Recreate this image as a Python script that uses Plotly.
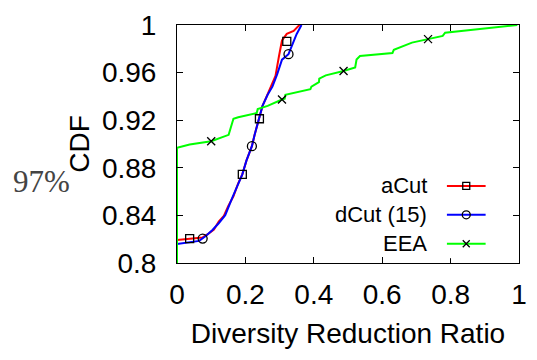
import plotly.graph_objects as go

# ---- data ----
acut_x = [0, 0.037, 0.06, 0.075, 0.089, 0.108, 0.122, 0.137, 0.15, 0.165, 0.179, 0.191,
          0.203, 0.219, 0.227, 0.241, 0.25, 0.26, 0.275, 0.288, 0.298, 0.307, 0.321,
          0.341, 0.355, 0.36]
acut_y = [0.8194, 0.8205, 0.8210, 0.8215, 0.824, 0.8281, 0.8348, 0.8395, 0.848, 0.856,
          0.867, 0.8745, 0.886, 0.8982, 0.9077, 0.9212, 0.932, 0.9385, 0.948, 0.9573,
          0.9735, 0.987, 0.9925, 0.9951, 0.9992, 1.0]

dcut_x = [0, 0.032, 0.065, 0.084, 0.103, 0.122, 0.141, 0.16, 0.179, 0.191, 0.203, 0.219,
          0.227, 0.241, 0.25, 0.265, 0.279, 0.293, 0.307, 0.326, 0.336, 0.35, 0.364]
dcut_y = [0.816, 0.8172, 0.8186, 0.8227, 0.8275, 0.8334, 0.8402, 0.8537, 0.8672, 0.8745,
          0.886, 0.8982, 0.9077, 0.9212, 0.932, 0.9414, 0.9482, 0.9587, 0.9709, 0.9755,
          0.983, 0.9925, 1.0]

eea_x = [0, 0, 0.037, 0.1, 0.151, 0.158, 0.165, 0.179, 0.217, 0.233, 0.236, 0.265, 0.307,
         0.315, 0.317, 0.378, 0.39, 0.393, 0.412, 0.415, 0.416, 0.435, 0.487, 0.521,
         0.525, 0.535, 0.63, 0.634, 0.687, 0.734, 0.777, 0.784, 0.995]
eea_y = [0.8, 0.8969, 0.8996, 0.9023, 0.9077, 0.915, 0.9212, 0.9225, 0.9252, 0.926,
         0.9293, 0.932, 0.9374, 0.938, 0.9414, 0.9455, 0.946, 0.9482, 0.9509, 0.952,
         0.955, 0.9577, 0.9614, 0.9644, 0.971, 0.9739, 0.9765, 0.9792, 0.9852, 0.9881,
         0.9908, 0.9935, 1.0]

acut_mx = [0.037, 0.191, 0.241, 0.321]
acut_my = [0.8205, 0.8745, 0.9212, 0.9862]
dcut_mx = [0.075, 0.219, 0.326]
dcut_my = [0.8205, 0.8982, 0.9755]
eea_mx = [0.1, 0.307, 0.487, 0.734]
eea_my = [0.9023, 0.9374, 0.9614, 0.9881]

series_names = ["aCut", "dCut (15)", "EEA"]
series_colors = ["#ff0000", "#0000ff", "#00ff00"]
series_symbols = ["square-open", "circle-open", "x-thin-open"]

x_ticks = [0, 0.2, 0.4, 0.6, 0.8, 1]
x_ticktext = ["0", "0.2", "0.4", "0.6", "0.8", "1"]
y_ticks = [0.8, 0.84, 0.88, 0.92, 0.96, 1]
y_ticktext = ["0.8", "0.84", "0.88", "0.92", "0.96", "1"]

FONT = "Liberation Sans, Arial, sans-serif"

fig = go.Figure()

lines = [(acut_x, acut_y), (dcut_x, dcut_y), (eea_x, eea_y)]
marks = [(acut_mx, acut_my), (dcut_mx, dcut_my), (eea_mx, eea_my)]
msize = [8, 9, 8]
lsize = [7, 8, 7]

for (lx, ly), c in zip(lines, series_colors):
    fig.add_trace(go.Scatter(x=lx, y=ly, mode="lines", line=dict(color=c, width=2),
                             showlegend=False, hoverinfo="skip"))
for (mx, my), s, ms in zip(marks, series_symbols, msize):
    fig.add_trace(go.Scatter(x=mx, y=my, mode="markers",
                             marker=dict(symbol=s, size=ms, color="black",
                                         line=dict(color="black", width=1.3)),
                             showlegend=False, hoverinfo="skip"))

# custom legend (text left of sample, like the reference)
legend_rows = [3, 2, 1]
for name, c, s, ms, r in zip(series_names, series_colors, series_symbols, lsize, legend_rows):
    fig.add_trace(go.Scatter(x=[0, 1], y=[r, r], mode="lines", line=dict(color=c, width=2),
                             xaxis="x2", yaxis="y2", showlegend=False, hoverinfo="skip"))
    fig.add_trace(go.Scatter(x=[0.5], y=[r], mode="markers",
                             marker=dict(symbol=s, size=ms, color="black",
                                         line=dict(color="black", width=1.3)),
                             xaxis="x2", yaxis="y2", showlegend=False, hoverinfo="skip"))
    fig.add_annotation(x=0, y=r, xref="x2", yref="y2", text=name, showarrow=False,
                       xanchor="right", yanchor="middle", xshift=-18,
                       font=dict(family=FONT, size=22, color="black"))

axis_common = dict(showline=True, linecolor="black", linewidth=1, mirror="ticks",
                   ticks="inside", ticklen=6, tickcolor="black", showgrid=False,
                   zeroline=False, tickfont=dict(family=FONT, size=28, color="black"))

fig.update_layout(
    width=537, height=360,
    margin=dict(l=177, r=10, t=16, b=97),
    paper_bgcolor="white", plot_bgcolor="white",
    xaxis=dict(range=[0, 1], tickvals=x_ticks, ticktext=x_ticktext,
               ticklabelstandoff=6,
               title=dict(text="Diversity Reduction Ratio", standoff=14,
                          font=dict(family=FONT, size=28, color="black")),
               **axis_common),
    yaxis=dict(range=[0.8, 1], tickvals=y_ticks, ticktext=y_ticktext,
               ticklabelstandoff=14,
               title=dict(text="CDF", standoff=4,
                          font=dict(family=FONT, size=28, color="black")),
               **axis_common),
    xaxis2=dict(domain=[0.7886, 0.9029], range=[0, 1], visible=False, fixedrange=True,
                anchor="y2"),
    yaxis2=dict(domain=[0.0203, 0.3846], range=[0.5, 3.5], visible=False, fixedrange=True,
                anchor="x2"),
)

fig.add_annotation(x=(38 - 177) / 350, y=(263 - 178) / 247, xref="paper", yref="paper",
                   text="97%", showarrow=False, xanchor="center", yanchor="middle",
                   font=dict(family="Liberation Serif, Times New Roman, serif", size=31,
                             color="#444444"))

fig.write_html("out.html")
